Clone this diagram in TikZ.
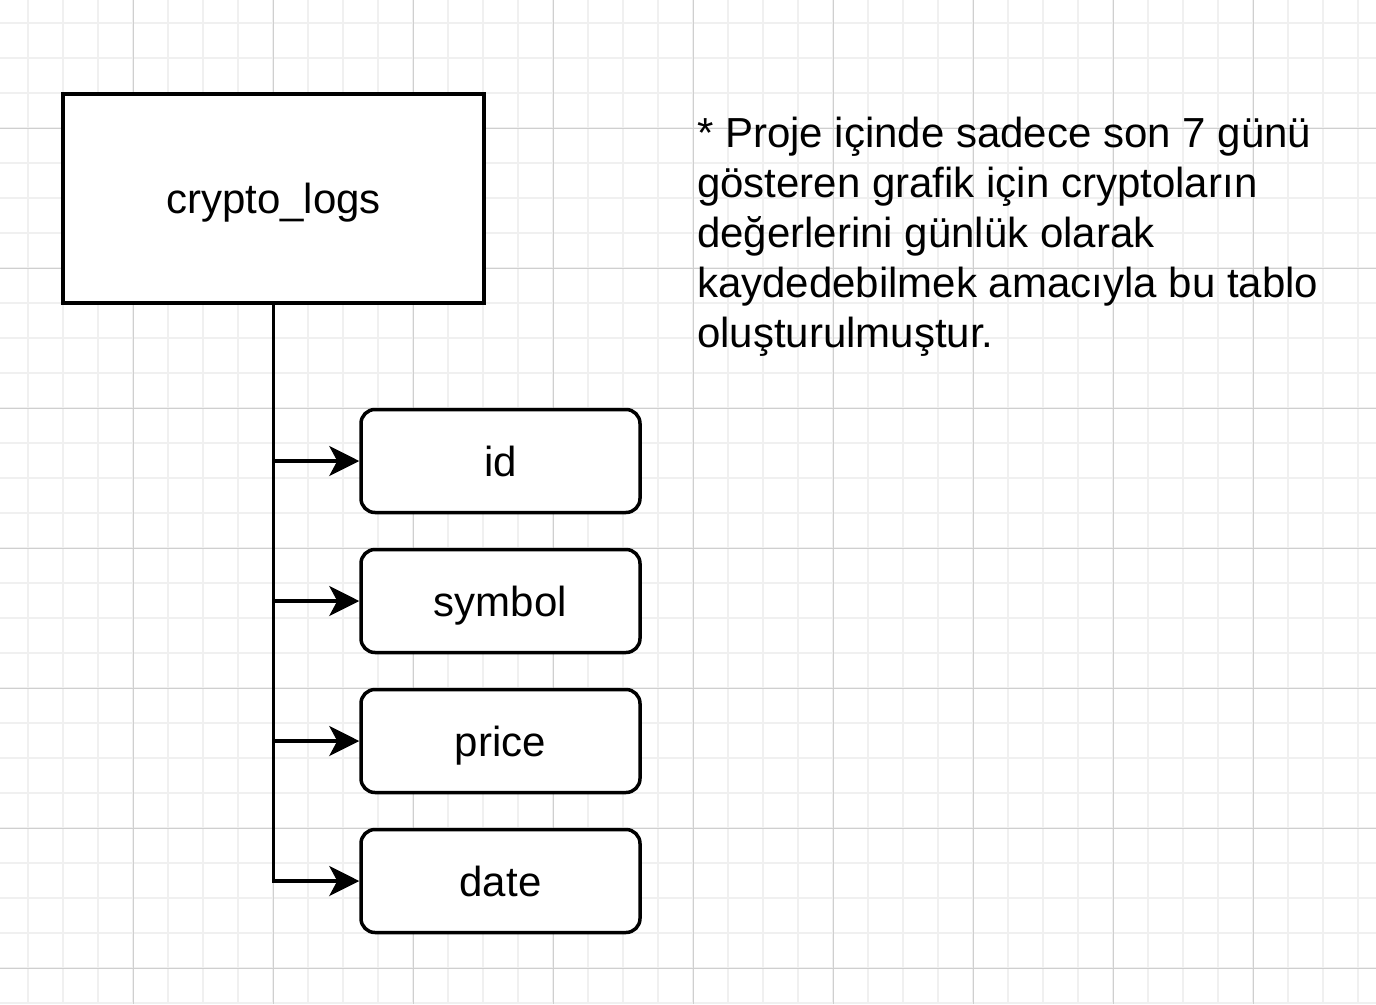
\documentclass[tikz,border=0pt]{standalone}
\usepackage{fontspec}
\setmainfont{Liberation Sans}
\usetikzlibrary{arrows.meta}
\tikzset{
  minorgrid/.style={line width=1.5pt, draw=black!6},
  majorgrid/.style={line width=1pt, draw=black!19},
  tablebox/.style={draw=black, line width=3.5pt, fill=white, inner sep=0pt,
    minimum width=421pt, minimum height=209pt, font=\fontsize{42}{50.4}\selectfont,
    text height=32pt, text depth=2pt},
  fieldbox/.style={draw=black, line width=3.5pt, fill=white, inner sep=0pt, rounded corners=14pt,
    minimum width=279pt, minimum height=103pt, font=\fontsize{42}{50.4}\selectfont,
    text height=32pt, text depth=2pt},
  link/.style={line width=3.5pt, draw=black, -{Stealth[length=30pt,width=30pt,inset=8pt]}},
  note/.style={anchor=base west, inner sep=0pt, font=\fontsize{42}{50.4}\selectfont}
}
\begin{document}
\begin{tikzpicture}[x=1pt,y=-1pt]
\useasboundingbox (0,0) rectangle (1376,1004);
\fill[white] (0,0) rectangle (1376,1004);
% minor grid
\foreach \gx in {28,63,...,1378} \draw[minorgrid] (\gx,0) -- (\gx,1004);
\foreach \gy in {23,58,...,1008} \draw[minorgrid] (0,\gy) -- (1376,\gy);
% major grid
\foreach \gx in {133,273,...,1373} \draw[majorgrid] (\gx,0) -- (\gx,1004);
\foreach \gy in {128,268,...,1008} \draw[majorgrid] (0,\gy) -- (1376,\gy);

\node[tablebox] (logs) at (273.5,198.5) {crypto\_logs};
\node[fieldbox] (id) at (500.5,461) {id};
\node[fieldbox] (symbol) at (500.5,601) {symbol};
\node[fieldbox] (price) at (500.5,741) {price};
\node[fieldbox] (date) at (500.5,881) {date};

\draw[link] (logs.south) |- (date.west);
\draw[link] (logs.south) |- (price.west);
\draw[link] (logs.south) |- (symbol.west);
\draw[link] (logs.south) |- (id.west);

\node[note] (n1) at (697,147) {* Proje içinde sadece son 7 günü};
\node[note] (n2) at (697,197.2) {gösteren grafik için cryptoların};
\node[note] (n3) at (697,247.4) {değerlerini günlük olarak};
\node[note] (n4) at (697,297.6) {kaydedebilmek amacıyla bu tablo};
\node[note] (n5) at (697,347.8) {oluşturulmuştur.};
\end{tikzpicture}
\end{document}
